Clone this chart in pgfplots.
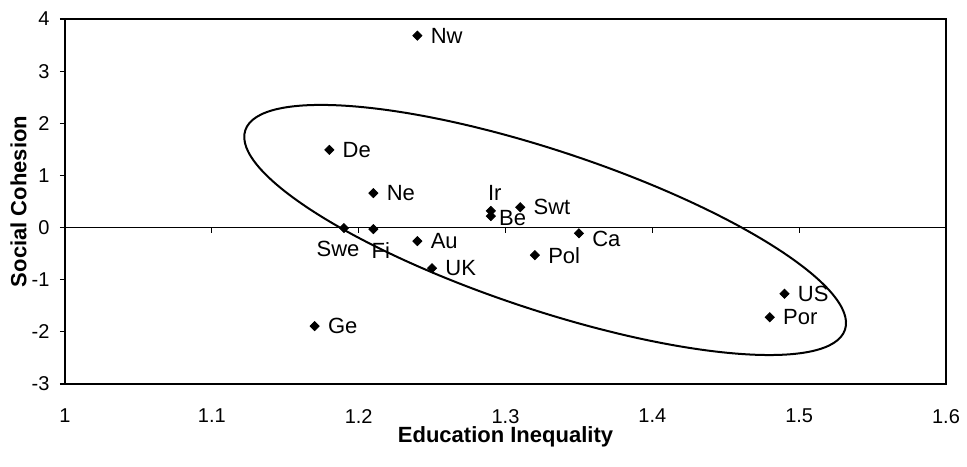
\documentclass[border=0pt]{standalone}
\usepackage{pgfplots}
\pgfplotsset{compat=1.18}
\usepackage{fontspec}
\setmainfont{Liberation Sans}
\tikzset{lab/.style={font=\fontsize{11}{13}\selectfont, text=black, inner sep=2pt}}
\begin{document}
\begin{tikzpicture}
\useasboundingbox (-32.5pt,-41pt) rectangle (451pt,192pt);
\pgfplotsset{
  common/.style={
    at={(0,0)}, anchor=south west,
    width=440.5pt, height=182.5pt, scale only axis,
    xmin=1, xmax=1.6, ymin=-3, ymax=4,
  },
}
% overlay axis: the line at y = 0 with its downward ticks
\begin{axis}[common,
  axis x line=middle, axis y line=none,
  xtick={1.1,1.2,1.3,1.4,1.5}, xticklabels={},
  xtick align=center, major tick length=2.6pt,
  axis line style={-, line width=0.6pt},
  x tick style={line width=0.6pt, black, yshift=-1.3pt},
]
\end{axis}
\begin{axis}[common, name=main,
  xtick={1,1.1,1.2,1.3,1.4,1.5,1.6},
  xticklabels={1,1.1,1.2,1.3,1.4,\raisebox{-2.5pt}{1.5},1.6},
  ytick={-3,-2,-1,0,1,2,3,4},
  ytick pos=left, ytick align=outside,
  major tick length=2.5pt,
  x tick style={draw=none},
  y tick style={line width=0.6pt, black},
  xticklabel style={yshift=-9pt},
  yticklabel style={xshift=-1.7pt},
  tick label style={font=\fontsize{10}{12}\selectfont},
  /pgf/number format/assume math mode=true,
  axis line style={line width=0.65pt},
  xlabel={\textbf{Education Inequality}},
  ylabel={\textbf{Social Cohesion}},
  every axis x label/.style={at={(axis description cs:0.5,-0.145)}, anchor=center, font=\fontsize{11}{13}\selectfont},
  every axis y label/.style={at={(axis description cs:-0.0528,0.5)}, rotate=90, anchor=center, font=\fontsize{11}{13}\selectfont},
  clip=false,
]
% labels to the right
\addplot[only marks, mark=square*, mark size=1.6pt, mark options={rotate=45, black}, black,
  nodes near coords, point meta=explicit symbolic,
  every node near coord/.style={lab, anchor=west, xshift=4.5pt}]
  table[meta=label] {
x y label
1.24 3.68 Nw
1.18 1.49 De
1.21 0.66 Ne
1.24 -0.26 Au
1.25 -0.78 UK
1.17 -1.89 Ge
1.31 0.39 Swt
1.32 -0.53 Pol
1.49 -1.27 US
1.48 -1.72 Por
};
% Be
\addplot[only marks, mark=square*, mark size=1.6pt, mark options={rotate=45, black}, black,
  nodes near coords, point meta=explicit symbolic,
  every node near coord/.style={lab, anchor=west, xshift=2pt, yshift=-1pt}]
  table[meta=label] {
x y label
1.29 0.22 Be
};
% Ca
\addplot[only marks, mark=square*, mark size=1.6pt, mark options={rotate=45, black}, black,
  nodes near coords, point meta=explicit symbolic,
  every node near coord/.style={lab, anchor=west, xshift=4.5pt, yshift=-3pt}]
  table[meta=label] {
x y label
1.35 -0.11 Ca
};
% Ir
\addplot[only marks, mark=square*, mark size=1.6pt, mark options={rotate=45, black}, black,
  nodes near coords, point meta=explicit symbolic,
  every node near coord/.style={lab, anchor=south, xshift=2pt, yshift=3pt}]
  table[meta=label] {
x y label
1.29 0.32 Ir
};
% Swe
\addplot[only marks, mark=square*, mark size=1.6pt, mark options={rotate=45, black}, black,
  nodes near coords, point meta=explicit symbolic,
  every node near coord/.style={lab, anchor=north, xshift=-3pt, yshift=-4.5pt}]
  table[meta=label] {
x y label
1.19 -0.01 Swe
};
% Fi
\addplot[only marks, mark=square*, mark size=1.6pt, mark options={rotate=45, black}, black,
  nodes near coords, point meta=explicit symbolic,
  every node near coord/.style={lab, anchor=north, xshift=3.7pt, yshift=-4.5pt}]
  table[meta=label] {
x y label
1.21 -0.03 Fi
};
\coordinate (ec) at (axis cs:1.327,-0.046);
\end{axis}
\draw[line width=1pt, rotate around={-18.4:(ec)}] (ec) ellipse [x radius=158pt, y radius=39.75pt];
\end{tikzpicture}
\end{document}
